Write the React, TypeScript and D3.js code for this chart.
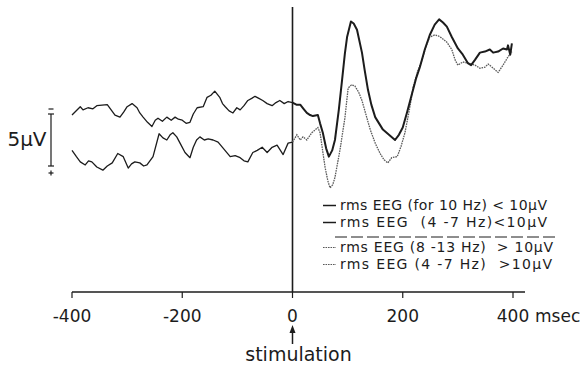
import * as d3 from "d3";

const W = 587;
const H = 367;

// time axis (msec)
const tickValues = [-400, -200, 0, 200, 400];
const xUnit = "msec";
const stimLabel = "stimulation";

// calibration bar
const barLabel = "5µV";
const barRange = [0, 5];

// averaged EEG, [msec, µV] (negative up)
// rms EEG < 10µV  -> solid trace
const lowRms: [number, number][] = [
  [-400, 0.1], [-385, -0.7], [-380, -0.4], [-371, -0.6], [-362, -0.5], [-355, -0.8],
  [-336, -0.9], [-322, 0.1], [-313, 0.3], [-306, -0.2], [-300, -0.7], [-291, -1.0],
  [-282, -0.6], [-277, -0.1], [-271, 0.3], [-263, 0.8], [-255, 1.2], [-249, 0.6],
  [-244, 0.4], [-236, 0.7], [-228, 0.3], [-220, 0.6], [-213, 0.3], [-207, 0.5],
  [-200, 0.6], [-193, 0.9], [-186, 0.8], [-180, 0.0], [-173, -0.6], [-162, -0.7],
  [-155, -1.6], [-148, -1.8], [-141, -2.2], [-132, -1.6], [-127, -1.0], [-122, -0.7],
  [-115, -0.3], [-108, -0.1], [-101, -0.6], [-95, -0.4], [-88, -0.8], [-81, -1.3],
  [-74, -1.5], [-68, -1.7], [-61, -1.5], [-54, -1.3], [-46, -1.0], [-37, -0.8],
  [-30, -1.1], [-23, -1.3], [-15, -1.0], [-8, -1.2], [0, -1.1],
  [7, -0.9], [14, -0.9], [20, -0.5], [26, -0.1], [32, 0.1], [37, 0.2], [46, 0.1],
  [50, 0.9], [55, 1.8], [61, 3.3], [66, 4.1], [72, 3.5], [77, 2.5], [84, -0.4],
  [90, -3.3], [95, -5.8], [99, -7.4], [106, -8.9], [111, -8.7], [117, -8.1],
  [126, -5.9], [131, -4.2], [137, -2.3], [143, -0.9], [150, 0.3], [157, 0.9],
  [164, 1.5], [175, 2.0], [186, 2.5], [193, 2.0], [200, 1.3], [208, -0.2],
  [217, -2.0], [224, -3.4], [231, -4.5], [240, -6.2], [249, -7.6], [258, -8.6],
  [266, -9.1], [273, -8.8], [280, -8.4], [289, -7.4], [300, -6.3], [309, -5.7],
  [318, -4.9], [324, -4.7], [331, -5.2], [340, -5.9], [349, -6.0], [358, -6.2],
  [364, -5.9], [373, -6.0], [382, -6.3], [389, -6.2], [391, -6.6], [395, -5.7],
  [398, -6.8],
];

// rms EEG > 10µV -> dotted trace after stimulation
const highRms: [number, number][] = [
  [-400, 3.5], [-392, 4.1], [-385, 4.6], [-376, 4.9], [-370, 4.5], [-364, 4.6],
  [-355, 5.1], [-344, 5.4], [-336, 5.0], [-327, 4.7], [-317, 3.8], [-307, 4.1],
  [-298, 5.2], [-292, 4.8], [-286, 4.6], [-277, 4.7], [-270, 5.0], [-264, 4.9],
  [-253, 4.1], [-242, 1.9], [-235, 2.3], [-228, 2.5], [-222, 2.0], [-217, 1.8],
  [-210, 2.2], [-204, 2.8], [-195, 3.7], [-186, 4.2], [-180, 3.2], [-174, 2.5],
  [-168, 2.2], [-160, 2.5], [-153, 2.4], [-144, 2.5], [-135, 2.7], [-124, 3.4],
  [-113, 4.1], [-104, 4.0], [-95, 4.2], [-88, 4.5], [-81, 4.6], [-72, 3.7],
  [-64, 3.5], [-55, 3.2], [-46, 3.7], [-37, 3.2], [-28, 3.0], [-17, 3.9],
  [-8, 2.8], [0, 2.7],
  [8, 2.0], [14, 2.5], [19, 2.2], [26, 2.5], [35, 1.8], [46, 1.3], [50, 1.8],
  [59, 5.1], [64, 6.4], [68, 7.1], [73, 6.8], [77, 6.1], [86, 3.5], [95, 0.4],
  [101, -2.5], [107, -2.8], [113, -2.7], [120, -2.1], [126, -1.3], [134, 0.2],
  [141, 1.5], [150, 2.8], [159, 3.8], [166, 4.4], [173, 4.7], [180, 4.2],
  [190, 4.1], [197, 3.1], [204, 1.8], [212, -0.4], [219, -2.6], [227, -4.1],
  [235, -5.2], [242, -6.5], [249, -7.4], [258, -7.6], [265, -7.5], [271, -7.3],
  [280, -6.9], [289, -6.2], [295, -5.2], [300, -4.7], [309, -5.0], [318, -4.9],
  [331, -4.7], [340, -4.4], [349, -4.5], [355, -4.8], [362, -4.5], [373, -4.0],
  [382, -4.7], [391, -5.5], [398, -6.0],
];

const legendLabels = [
  "rms EEG (for 10 Hz) < 10µV",
  "rms EEG  (4 -7 Hz)<10µV",
  "rms EEG (8 -13 Hz)  > 10µV",
  "rms EEG (4 -7 Hz)  >10µV",
];
const legendDotted = [false, false, true, true];

const FONT = "'DejaVu Sans', sans-serif";
const INK = "#1c1c1c";

export default function App() {
  const x = d3.scaleLinear().domain([-400, 400]).range([72, 513]);
  const y = d3.scaleLinear().domain(barRange).range([114, 166]);

  const axisY = 292;
  const x0 = x(0);

  const line = d3
    .line<[number, number]>()
    .x((d) => x(d[0]))
    .y((d) => y(d[1]));

  const pre = (arr: [number, number][]) => arr.filter((d) => d[0] <= 0);
  const post = (arr: [number, number][]) => arr.filter((d) => d[0] >= 0);

  // baselines of legend rows
  const legendY = [210, 227, 252, 269];
  const legendLen = [207, 207, 213, 212];

  return (
    <svg
      width={W}
      height={H}
      style={{ position: "absolute", left: 0, top: 0, background: "#fff" }}
      fontFamily={FONT}
    >
      {/* stimulus marker */}
      <line x1={x0} x2={x0} y1={7} y2={axisY} stroke={INK} strokeWidth={1.6} />

      {/* traces */}
      <path d={line(pre(lowRms)) || ""} fill="none" stroke={INK} strokeWidth={1.3} strokeLinejoin="round" />
      <path d={line(pre(highRms)) || ""} fill="none" stroke={INK} strokeWidth={1.3} strokeLinejoin="round" />
      <path
        d={line(post(highRms)) || ""}
        fill="none"
        stroke="#5a5a5a"
        strokeWidth={1.3}
        strokeDasharray="1.6,0.9"
      />
      <path d={line(post(lowRms)) || ""} fill="none" stroke={INK} strokeWidth={2} strokeLinejoin="round" />

      {/* calibration bar */}
      <g stroke={INK} strokeWidth={1.2}>
        <line x1={51} x2={51} y1={y(barRange[0])} y2={y(barRange[1])} />
        <line x1={48} x2={54} y1={y(barRange[0])} y2={y(barRange[0])} />
        <line x1={48} x2={54} y1={y(barRange[1])} y2={y(barRange[1])} />
        <line x1={48.5} x2={53.5} y1={y(barRange[0]) - 5} y2={y(barRange[0]) - 5} />
        <line x1={48.5} x2={53.5} y1={y(barRange[1]) + 7} y2={y(barRange[1]) + 7} />
        <line x1={51} x2={51} y1={y(barRange[1]) + 4.5} y2={y(barRange[1]) + 9.5} />
      </g>
      <text x={27} y={y(2.4)} fontSize={20} textAnchor="middle" dominantBaseline="central" fill={INK}>
        {barLabel}
      </text>

      {/* time axis */}
      <line x1={x(-400)} x2={525} y1={axisY} y2={axisY} stroke={INK} strokeWidth={1.5} />
      {tickValues.map((t) => (
        <g key={t}>
          <line x1={x(t)} x2={x(t)} y1={axisY} y2={axisY + 6} stroke={INK} strokeWidth={1.2} />
          <text x={x(t)} y={322} fontSize={17} textAnchor="middle" fill={INK}>
            {t}
          </text>
        </g>
      ))}
      <text x={535} y={322} fontSize={17} fill={INK}>
        {xUnit}
      </text>

      {/* stimulation arrow */}
      <line x1={x0} x2={x0} y1={330} y2={344} stroke={INK} strokeWidth={1.5} />
      <polygon points={`${x0},${325} ${x0 - 3},${333} ${x0 + 3},${333}`} fill={INK} />
      <text x={x0 + 6} y={361} fontSize={19} textAnchor="middle" fill={INK}>
        {stimLabel}
      </text>

      {/* legend */}
      {legendLabels.map((lab, i) => {
        const ly = legendY[i];
        return (
          <g key={lab}>
            <line
              x1={323}
              x2={336}
              y1={ly - 4.5}
              y2={ly - 4.5}
              stroke={legendDotted[i] ? "#5a5a5a" : INK}
              strokeWidth={legendDotted[i] ? 1.2 : 1.5}
              strokeDasharray={legendDotted[i] ? "1.6,0.9" : undefined}
            />
            <text
              x={340}
              y={ly}
              fontSize={14}
              fill={INK}
              textLength={legendLen[i]}
              lengthAdjust="spacing"
              style={{ whiteSpace: "pre" }}
            >
              {lab}
            </text>
          </g>
        );
      })}
      <line
        x1={335}
        x2={558}
        y1={237}
        y2={237}
        stroke={INK}
        strokeWidth={1}
        strokeDasharray="12,4"
      />
    </svg>
  );
}
